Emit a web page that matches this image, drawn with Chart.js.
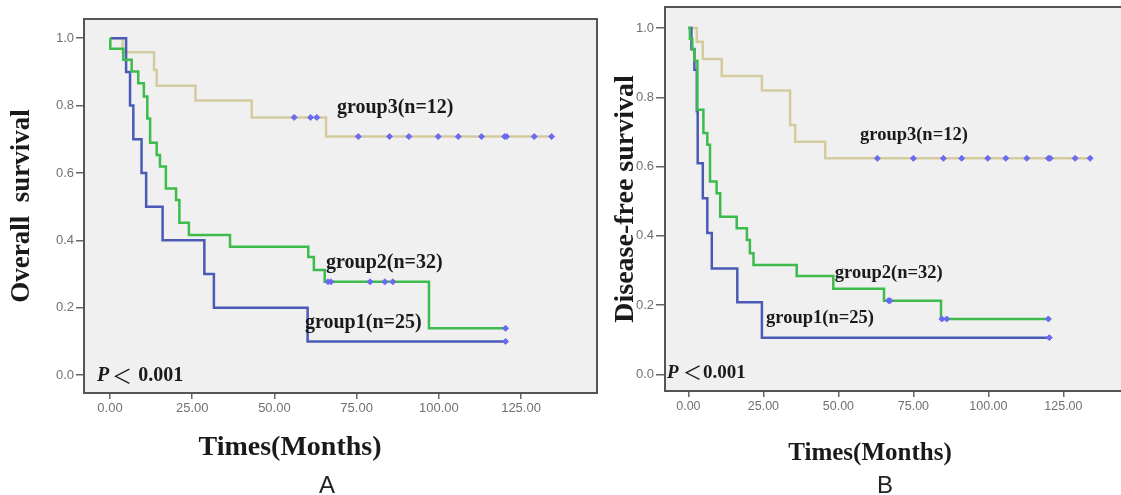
<!DOCTYPE html>
<html>
<head>
<meta charset="utf-8">
<script src="https://cdn.jsdelivr.net/npm/chart.js@4/dist/chart.umd.min.js"></script>
<style>
  html, body { margin: 0; padding: 0; background: #fff; overflow: hidden; }
  body { width: 1121px; height: 495px; position: relative; }
  canvas { position: absolute; top: 0; }
  #chartA { left: 0; }
  #chartB { left: 600px; }
  .xtitle { position: absolute; font-family: "Liberation Serif", "Times New Roman", serif; font-weight: bold;
            color: #1a1a1a; transform: translate(-50%, -50%); white-space: nowrap; line-height: 1; }
  .panel { position: absolute; font: 24px "Liberation Sans", Arial, sans-serif; color: #222;
           transform: translate(-50%, -50%); line-height: 1; }
</style>
</head>
<body>
<canvas id="chartA" width="600" height="495"></canvas>
<canvas id="chartB" width="540" height="495"></canvas>
<div class="xtitle" style="left:290px; top:446px; font-size:28px;">Times(Months)</div>
<div class="xtitle" style="left:870px; top:451px; font-size:25px;">Times(Months)</div>
<div class="panel" style="left:327px; top:485px;">A</div>
<div class="panel" style="left:885px; top:485px;">B</div>
<script>
// ---- data ----
// tick values
const xTicks = [0, 25, 50, 75, 100, 125];
const yTicks = [0, 0.2, 0.4, 0.6, 0.8, 1.0];
const groupNames = ['group1(n=25)', 'group2(n=32)', 'group3(n=12)'];

// A: overall survival (months, survival at each step)
const osG1Time = [0, 4.9, 6.1, 7.1, 9.6, 11.0, 16.0, 28.7, 31.6, 60.1, 120.3];
const osG1Surv = [1.0, 0.9, 0.8, 0.7, 0.6, 0.5, 0.4, 0.3, 0.2, 0.1, 0.1];
const osG2Time = [0, 0.1, 4.05, 6.6, 8.6, 10.3, 11.35, 12.2, 14.2, 15.2, 17.0, 20.1, 21.1, 24.0, 36.5, 60.3, 62.0, 65.3, 97.0, 120.3];
const osG2Surv = [1.0, 0.969, 0.936, 0.901, 0.866, 0.827, 0.762, 0.690, 0.653, 0.619, 0.554, 0.520, 0.452, 0.416, 0.381, 0.351, 0.312, 0.277, 0.139, 0.139];
const osG3Time = [0, 3.85, 13.4, 14.2, 26.0, 43.1, 65.7, 134.3];
const osG3Surv = [1.0, 0.958, 0.906, 0.859, 0.815, 0.765, 0.708, 0.708];
// A: censored cases
const osG1CensT = [120.3];
const osG1CensS = [0.1];
const osG2CensT = [66.3, 67.2, 79.1, 83.6, 86.0, 120.3];
const osG2CensS = [0.277, 0.277, 0.277, 0.277, 0.277, 0.139];
const osG3CensT = [56.0, 61.0, 62.9, 75.5, 85.0, 90.9, 99.8, 105.9, 113.0, 120.0, 120.6, 129.0, 134.3];
const osG3CensS = [0.765, 0.765, 0.765, 0.708, 0.708, 0.708, 0.708, 0.708, 0.708, 0.708, 0.708, 0.708, 0.708];

// B: disease-free survival
const dfsG1Time = [0, 1.0, 2.0, 2.8, 3.1, 4.8, 6.3, 7.8, 16.3, 24.5, 120.3];
const dfsG1Surv = [1.0, 0.94, 0.88, 0.76, 0.61, 0.509, 0.408, 0.306, 0.208, 0.106, 0.106];
const dfsG2Time = [0, 0.5, 1.3, 2.0, 3.0, 5.0, 6.3, 7.2, 9.4, 10.6, 16.1, 19.5, 20.5, 21.7, 36.1, 48.3, 65.2, 84.2, 120.0];
const dfsG2Surv = [1.0, 0.969, 0.938, 0.906, 0.764, 0.697, 0.663, 0.557, 0.523, 0.455, 0.422, 0.388, 0.350, 0.316, 0.284, 0.247, 0.213, 0.160, 0.160];
const dfsG3Time = [0, 2.8, 4.8, 11.1, 24.5, 33.9, 35.6, 45.6, 133.9];
const dfsG3Surv = [1.0, 0.961, 0.911, 0.862, 0.820, 0.720, 0.672, 0.624, 0.624];
const dfsG1CensT = [120.3];
const dfsG1CensS = [0.106];
const dfsG2CensT = [66.7, 67.2, 84.5, 86.1, 120.0];
const dfsG2CensS = [0.213, 0.213, 0.160, 0.160, 0.160];
const dfsG3CensT = [63.0, 75.0, 85.0, 91.1, 99.8, 105.8, 112.8, 120.0, 120.6, 128.9, 133.9];
const dfsG3CensS = [0.624, 0.624, 0.624, 0.624, 0.624, 0.624, 0.624, 0.624, 0.624, 0.624, 0.624];

// ---- styles ----
const colG1 = '#4a5ab6';
const colG2 = '#3dbb4c';
const colG3 = '#d5cb9e';
const colCensor = '#6a6af2';
const serif = '"Liberation Serif", "Times New Roman", serif';

function pts(times, vals) {
    return times.map((t, i) => ({ x: t, y: vals[i] }));
}

function kmDatasets(lines, cens) {
    // censor marks first -> drawn on top; then green, blue, tan
    const marks = cens.map(c => ({
        data: pts(c[0], c[1]), showLine: false,
        pointStyle: 'rectRot', pointRadius: 3,
        backgroundColor: colCensor, borderColor: colCensor, borderWidth: 1
    }));
    const curves = lines.map(l => ({
        data: pts(l[0], l[1]), stepped: true,
        borderColor: l[2], borderWidth: 2.5, pointRadius: 0, fill: false
    }));
    return marks.concat(curves);
}

// background, frame and in-plot text
const kmDecor = {
    id: 'kmDecor',
    beforeDraw(chart) {
        const { ctx, chartArea: a } = chart;
        ctx.save();
        ctx.fillStyle = '#f0f0f0';
        ctx.fillRect(a.left, a.top, a.right - a.left, a.bottom - a.top);
        ctx.restore();
    },
    afterDraw(chart, args, opts) {
        const { ctx, chartArea: a, scales } = chart;
        const x = scales.x, y = scales.y;
        ctx.save();
        ctx.strokeStyle = '#555';
        ctx.lineWidth = 2;
        ctx.strokeRect(a.left, a.top, a.right - a.left, a.bottom - a.top);

        ctx.fillStyle = '#1a1a1a';
        ctx.textBaseline = 'middle';
        ctx.textAlign = 'left';
        ctx.font = 'bold ' + opts.labelSize + 'px ' + serif;
        opts.labels.forEach((l, i) => {
            ctx.fillText(groupNames[i], x.getPixelForValue(l[0]), y.getPixelForValue(l[1]));
        });

        // P < 0.001
        const p = opts.pval;
        const py = y.getPixelForValue(p.y);
        ctx.font = 'italic bold ' + p.size + 'px ' + serif;
        ctx.fillText('P', x.getPixelForValue(p.x[0]), py);
        ctx.font = p.size + 'px "Noto Sans CJK SC", sans-serif';
        ctx.fillText('＜', x.getPixelForValue(p.x[1]), py);
        ctx.font = 'bold ' + p.size + 'px ' + serif;
        ctx.fillText('0.001', x.getPixelForValue(p.x[2]), py);
        ctx.restore();
    }
};

function makeChart(id, cfg) {
    return new Chart(document.getElementById(id), {
        type: 'line',
        data: { datasets: kmDatasets(cfg.lines, cfg.cens) },
        plugins: [kmDecor],
        options: {
            responsive: false,
            animation: false,
            events: [],
            layout: { autoPadding: false, padding: cfg.padding },
            scales: {
                x: {
                    type: 'linear', min: cfg.xRange[0], max: cfg.xRange[1],
                    afterBuildTicks: s => { s.ticks = xTicks.map(v => ({ value: v })); },
                    afterFit: s => { s.height = 30; s.paddingLeft = 0; s.paddingRight = 0; },
                    ticks: {
                        callback: v => Number(v).toFixed(2),
                        color: '#707070', padding: 2,
                        font: { family: '"Liberation Sans", Arial, sans-serif', size: cfg.xTickSize }
                    },
                    grid: { drawOnChartArea: false, drawTicks: true, tickLength: 6, color: '#666', lineWidth: 1.5 },
                    border: { display: false }
                },
                y: {
                    type: 'linear', min: cfg.yRange[0], max: cfg.yRange[1],
                    afterBuildTicks: s => { s.ticks = yTicks.map(v => ({ value: v })); },
                    afterFit: s => { s.width = cfg.yAxisWidth; s.paddingTop = 0; s.paddingBottom = 0; },
                    ticks: {
                        callback: v => Number(v).toFixed(1),
                        color: '#707070', padding: 2,
                        font: { family: '"Liberation Sans", Arial, sans-serif', size: 13 }
                    },
                    grid: { drawOnChartArea: false, drawTicks: true, tickLength: cfg.yTickLen, color: '#666', lineWidth: 1.5 },
                    border: { display: false },
                    title: {
                        display: true, text: cfg.yTitle, color: '#1a1a1a',
                        font: { family: serif, size: cfg.yTitleSize, weight: 'bold', lineHeight: 1 },
                        padding: { top: cfg.yTitlePad, bottom: 0 }
                    }
                }
            },
            plugins: {
                legend: { display: false },
                tooltip: { enabled: false },
                kmDecor: { labelSize: cfg.labelSize, labels: cfg.labels, pval: cfg.pval }
            }
        }
    });
}

makeChart('chartA', {
    lines: [[osG2Time, osG2Surv, colG2], [osG1Time, osG1Surv, colG1], [osG3Time, osG3Surv, colG3]],
    cens: [[osG1CensT, osG1CensS], [osG2CensT, osG2CensS], [osG3CensT, osG3CensS]],
    padding: { left: 0, top: 19, right: 3, bottom: 72 },
    xRange: [-7.9, 148.1], yRange: [-0.053, 1.057],
    xTickSize: 13, yAxisWidth: 84, yTickLen: 8,
    yTitle: 'Overall  survival', yTitleSize: 27, yTitlePad: 9,
    labelSize: 20,
    labels: [[59.3, 0.154], [65.7, 0.333], [69.0, 0.793]],
    pval: { size: 20, y: -0.003, x: [-3.95, 0.6, 8.6] }
});

makeChart('chartB', {
    lines: [[dfsG2Time, dfsG2Surv, colG2], [dfsG1Time, dfsG1Surv, colG1], [dfsG3Time, dfsG3Surv, colG3]],
    cens: [[dfsG1CensT, dfsG1CensS], [dfsG2CensT, dfsG2CensS], [dfsG3CensT, dfsG3CensS]],
    padding: { left: 0, top: 7, right: 7.6, bottom: 74 },
    xRange: [-7.8, 148], yRange: [-0.048, 1.061],
    xTickSize: 12.5, yAxisWidth: 65, yTickLen: 9,
    yTitle: 'Disease-free survival', yTitleSize: 28, yTitlePad: 11.5,
    labelSize: 18.5,
    labels: [[25.9, 0.163], [48.8, 0.293], [57.2, 0.692]],
    pval: { size: 19, y: 0.004, x: [-7.1, -1.8, 4.9] }
});
</script>
</body>
</html>
